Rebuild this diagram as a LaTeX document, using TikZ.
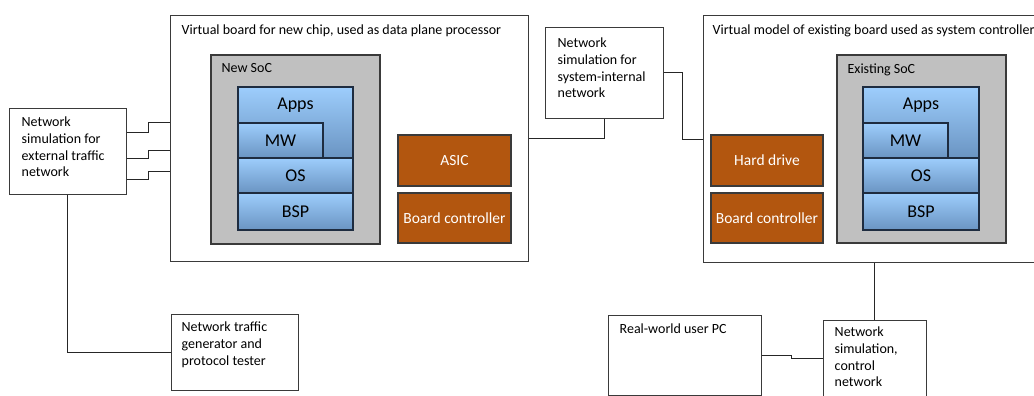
\documentclass[tikz,border=0pt]{standalone}
\usepackage{fontspec}
\setmainfont{Carlito}
\usetikzlibrary{positioning, calc}
\usepackage{xcolor}
\definecolor{EdgeGrey}{HTML}{3A3A3A}
\definecolor{SocGrey}{HTML}{C0C0C0}
\definecolor{LayerTop}{HTML}{9DCDFC}
\definecolor{LayerBot}{HTML}{6A94C2}
\definecolor{LayerEdge}{HTML}{1E2C40}
\definecolor{Rust}{HTML}{B2560F}
\tikzset{
    % Plain white boxes
    plainbox/.style={
        rectangle,
        draw=EdgeGrey,
        fill=white,
        line width=1pt,
        inner sep=0pt
    },
    socbox/.style={
        rectangle,
        draw=EdgeGrey,
        fill=SocGrey,
        line width=1.2pt,
        inner sep=0pt
    },
    % Software stack layers
    layer/.style={
        rectangle,
        draw=LayerEdge,
        top color=LayerTop,
        bottom color=LayerBot,
        line width=1.2pt,
        inner sep=0pt
    },
    layertext/.style={
        font=\fontsize{18}{20}\selectfont,
        text=black
    },
    hwblock/.style={
        rectangle,
        draw=EdgeGrey,
        fill=Rust,
        line width=1.2pt,
        inner sep=0pt,
        text=white,
        font=\fontsize{15.5}{18}\selectfont
    },
    boxtext/.style={
        anchor=north west,
        align=left,
        inner sep=0pt,
        font=\fontsize{14}{16.8}\selectfont
    },
    % Connectors
    link/.style={
        draw=black!85,
        line width=1pt
    }
}

\begin{document}
\begin{tikzpicture}[x=1pt, y=-1pt]
    \useasboundingbox (0,0) rectangle (1034,396);

    % data plane board
    \node[plainbox, minimum width=358pt, minimum height=245pt] (vb1) at (349,138.5) {};
    \node[boxtext] (vb1title) at ($(vb1.north west)+(12,9)$) {Virtual board for new chip, used as data plane processor};
    \node[socbox, minimum width=169pt, minimum height=189pt] (soc1) at (295.5,149.5) {};
    \node[boxtext] (soc1title) at ($(soc1.north west)+(11,9)$) {New SoC};
    \node[layer, minimum width=115pt, minimum height=71pt] (apps1) at (295.5,122.5) {};
    \node[layertext] (apps1text) at (295.5,105) {Apps};
    \node[layer, minimum width=85pt, minimum height=35pt, layertext] (mw1) at (280.5,140.5) {MW};
    \node[layer, minimum width=115pt, minimum height=35pt, layertext] (os1) at (295.5,175.5) {OS};
    \node[layer, minimum width=115pt, minimum height=37pt, layertext] (bsp1) at (295.5,211.5) {BSP};
    \node[hwblock, minimum width=113pt, minimum height=51pt] (asic) at (454.5,160.5) {ASIC};
    \node[hwblock, minimum width=113pt, minimum height=50pt] (bc1) at (454.5,218) {Board controller};

    % system controller board
    \node[plainbox, minimum width=357pt, minimum height=246pt] (vb2) at (881.5,139) {};
    \node[boxtext] (vb2title) at ($(vb2.north west)+(10,9)$) {Virtual model of existing board used as system controller};
    \node[hwblock, minimum width=112pt, minimum height=51pt] (hd) at (767,160.5) {Hard drive};
    \node[hwblock, minimum width=112pt, minimum height=50pt] (bc2) at (767,218) {Board controller};
    \node[socbox, minimum width=169pt, minimum height=188pt] (soc2) at (921.5,149) {};
    \node[boxtext] (soc2title) at ($(soc2.north west)+(11,9)$) {Existing SoC};
    \node[layer, minimum width=116pt, minimum height=71pt] (apps2) at (921,122.5) {};
    \node[layertext] (apps2text) at (921,105) {Apps};
    \node[layer, minimum width=85pt, minimum height=35pt, layertext] (mw2) at (905.5,140.5) {MW};
    \node[layer, minimum width=116pt, minimum height=35pt, layertext] (os2) at (921,175.5) {OS};
    \node[layer, minimum width=116pt, minimum height=37pt, layertext] (bsp2) at (921,211.5) {BSP};

    % network simulations and outside equipment
    \node[plainbox, minimum width=117pt, minimum height=86pt] (ext) at (67.5,151) {};
    \node[boxtext] (exttext) at ($(ext.north west)+(13,9)$) {Network\\simulation for\\external traffic\\network};
    \node[plainbox, minimum width=118pt, minimum height=90pt] (int) at (604,73) {};
    \node[boxtext] (inttext) at ($(int.north west)+(13,10)$) {Network\\simulation for\\system-internal\\network};
    \node[plainbox, minimum width=127pt, minimum height=76pt] (gen) at (234.5,352) {};
    \node[boxtext] (gentext) at ($(gen.north west)+(11,8)$) {Network traffic\\generator and\\protocol tester};
    \node[plainbox, minimum width=153pt, minimum height=80pt] (pc) at (684.5,355) {};
    \node[boxtext] (pctext) at ($(pc.north west)+(12,9)$) {Real-world user PC};
    \node[plainbox, minimum width=103pt, minimum height=100pt] (ctl) at (874.5,370) {};
    \node[boxtext] (ctltext) at ($(ctl.north west)+(12,7)$) {Network\\simulation,\\control\\network};

    % links
    \draw[link] (ext.east |- 0,132) -- (148,132) -- (148,122) -- (vb1.west |- 0,122);
    \draw[link] (ext.east |- 0,158) -- (148,158) -- (148,150) -- (vb1.west |- 0,150);
    \draw[link] (ext.east |- 0,179) -- (148,179) -- (148,171) -- (vb1.west |- 0,171);
    \draw[link] (ext.south) |- (gen.west);
    \draw[link] (vb1.east) -| (int.south);
    \draw[link] (int.east) -- ++(19,0) |- (vb2.west);
    \draw[link] (vb2.south -| ctl.north) -- (ctl.north);
    \draw[link] (pc.east) -- (791,355) -- (791,358) -- (ctl.west |- 0,358);
\end{tikzpicture}
\end{document}
